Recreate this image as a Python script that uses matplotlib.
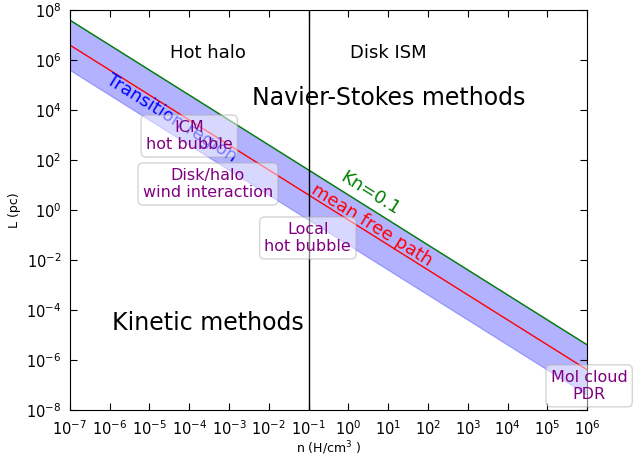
import matplotlib
matplotlib.use("Agg")
import matplotlib.pyplot as plt

# density range (H/cm^3) and lengths (pc) at both ends
n = [1e-7, 1e6]
mean_free_path = [4e6, 4e-7]
kn_01 = [4e7, 4e-6]
band_low = [4e5, 4e-8]
n_split = 0.1

xticks = [10.0**k for k in range(-7, 7)]
yticks = [10.0**k for k in range(-8, 9, 2)]

fig = plt.figure(figsize=(6.41, 4.61), dpi=100)
ax = fig.add_axes([0.109, 0.111, 0.807, 0.867])

ax.fill_between(n, band_low, kn_01, color="blue", alpha=0.3, lw=0.8)
ax.plot(n, mean_free_path, color="red", lw=1)
ax.plot(n, kn_01, color="green", lw=1)
ax.axvline(n_split, color="black", lw=1)

ax.set_xscale("log")
ax.set_yscale("log")
ax.set_xlim(1e-7, 1e6)
ax.set_ylim(1e-8, 1e8)
ax.set_xticks(xticks)
ax.set_yticks(yticks)
ax.minorticks_off()
ax.tick_params(direction="in", top=True, right=True, labelsize=10.5, length=5)
ax.tick_params(axis="x", pad=7)
ax.tick_params(axis="y", pad=6)
ax.set_xlabel("n (H/cm$^3$ )", fontsize=9, labelpad=1)
ax.set_ylabel("L (pc)", fontsize=9)

ax.text(3e-4, 2e6, "Hot halo", fontsize=13, ha="center", va="center")
ax.text(10, 2e6, "Disk ISM", fontsize=13, ha="center", va="center")
ax.text(10, 3e4, "Navier-Stokes methods", fontsize=17, ha="center", va="center")
ax.text(3e-4, 3e-5, "Kinetic methods", fontsize=17, ha="center", va="center")

ax.text(10**-4.44, 10**3.68, "Transition region", color="blue", fontsize=13,
        rotation=-32, ha="center", va="center")
ax.text(10**0.54, 10**0.68, "Kn=0.1", color="green", fontsize=13,
        rotation=-32, ha="center", va="center")
ax.text(10**0.6, 10**-0.6, "mean free path", color="red", fontsize=13,
        rotation=-32, ha="center", va="center")

box = dict(boxstyle="round,pad=0.3", facecolor="white", edgecolor="#aaaaaa", alpha=0.5)
labels = [
    ("ICM\nhot bubble", 1e-4, 10**2.96),
    ("Disk/halo\nwind interaction", 10**-3.53, 10**1.04),
    ("Local\nhot bubble", 10**-1.02, 10**-1.12),
    ("Mol cloud\nPDR", 10**6.05, 10**-7.04),
]
for txt, x, y in labels:
    ax.text(x, y, txt, color="purple", fontsize=11.5, ha="center", va="center",
            multialignment="center", bbox=box, clip_on=False)

fig.savefig("out.png", dpi=100)
